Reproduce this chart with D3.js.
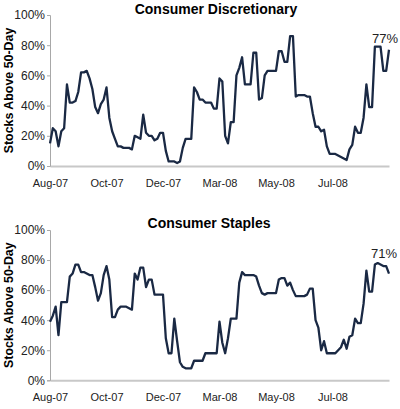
<!DOCTYPE html>
<html>
<head>
<meta charset="utf-8">
<script src="https://cdn.jsdelivr.net/npm/d3@7"></script>
<style>
  body { margin: 0; background: #fff; }
  svg { display: block; font-family: "Liberation Sans", Arial, sans-serif; }
</style>
</head>
<body>
<div id="chart"></div>
<script>
// x labels sit every 20 points along the category axis
const tickLabels = ["Aug-07", "Oct-07", "Dec-07", "Mar-08", "May-08", "Jul-08"];
const tickIdx = [0, 20, 40, 60, 80, 100];

// % of stocks above their 50-day average
const discretionary = [
  15, 25, 23, 13, 23, 25, 54, 42, 42, 43, 49, 62, 62, 63, 58, 51, 39, 35, 41, 44,
  52, 32, 23, 18, 13, 13, 12, 12, 12, 11, 20, 19, 18, 34, 22, 20, 20, 17, 18, 22,
  22, 10, 3, 3, 3, 2, 3, 12, 18, 18, 18, 52, 49, 44, 44, 42, 42, 42, 38, 38,
  58, 56, 20, 15, 29, 29, 60, 65, 72, 54, 54, 54, 75, 75, 44, 45, 60, 63, 63, 63,
  63, 76, 76, 69, 69, 86, 86, 46, 47, 47, 47, 46, 46, 35, 26, 26, 23, 24, 13, 8,
  8, 8, 7, 6, 5, 4, 11, 14, 26, 22, 22, 32, 54, 39, 39, 79, 79, 79, 63, 63, 77
];
const staples = [
  39, 43, 49, 30, 52, 52, 52, 69, 71, 77, 77, 72, 72, 71, 70, 70, 62, 53, 58, 70,
  76, 67, 42, 42, 47, 49, 49, 49, 48, 47, 71, 67, 75, 75, 62, 67, 67, 57, 57, 57,
  57, 28, 18, 18, 41, 26, 12, 9, 8, 8, 8, 13, 13, 13, 13, 18, 18, 18, 18, 18,
  39, 25, 18, 28, 41, 41, 41, 65, 72, 70, 70, 70, 70, 69, 63, 58, 57, 58, 58, 58,
  58, 67, 68, 68, 63, 65, 60, 56, 56, 56, 56, 57, 61, 61, 40, 35, 20, 26, 18, 18,
  18, 18, 20, 22, 27, 21, 29, 30, 41, 38, 38, 51, 73, 59, 59, 77, 78, 77, 76, 76, 71
];

const W = 400, H = 409;
const svg = d3.select("#chart").append("svg")
    .attr("width", W)
    .attr("height", H);

const panels = [
  {title: "Consumer Discretionary", values: discretionary, top: 15, bottom: 166,
   titleX: 216, titleY: 14, labelX: 385, labelY: 43},
  {title: "Consumer Staples", values: staples, top: 230, bottom: 380.3,
   titleX: 209, titleY: 228, labelX: 384, labelY: 258}
];

const left = 50, right = 389;

panels.forEach(p => {
    const g = svg.append("g");

    const x = d3.scalePoint()
        .domain(d3.range(p.values.length))
        .range([left, right]);

    const y = d3.scaleLinear()
        .domain([0, 1])
        .range([p.bottom, p.top]);

    // x axis: plain gray baseline with month labels
    const xAxis = g.append("g")
        .attr("transform", `translate(0,${p.bottom})`)
        .call(d3.axisBottom(x)
            .tickValues(tickIdx)
            .tickSize(0)
            .tickPadding(13)
            .tickFormat((d, i) => tickLabels[i]));
    xAxis.select(".domain").attr("stroke", "#c8c8c8").attr("stroke-width", 2);
    xAxis.selectAll("text").attr("font-size", 11).attr("fill", "#222");

    // y axis
    const yAxis = g.append("g")
        .attr("transform", `translate(${left},0)`)
        .call(d3.axisLeft(y)
            .tickValues(d3.range(0, 1.01, 0.2))
            .tickSize(3)
            .tickPadding(2)
            .tickFormat(d3.format(".0%")));
    yAxis.select(".domain").attr("stroke", "#a8a8a8");
    yAxis.selectAll(".tick line").attr("stroke", "#a8a8a8");
    yAxis.selectAll("text").attr("font-size", 12).attr("fill", "#222");

    // series
    const line = d3.line()
        .x((d, i) => x(i))
        .y(d => y(d / 100));

    g.append("path")
        .datum(p.values)
        .attr("fill", "none")
        .attr("stroke", "#1a2944")
        .attr("stroke-width", 2.3)
        .attr("stroke-linejoin", "round")
        .attr("d", line);

    // titles
    g.append("text")
        .attr("x", p.titleX)
        .attr("y", p.titleY)
        .attr("text-anchor", "middle")
        .attr("font-size", 14)
        .attr("font-weight", "bold")
        .attr("fill", "#000")
        .text(p.title);

    g.append("text")
        .attr("transform", `translate(13,${(p.top + p.bottom) / 2}) rotate(-90)`)
        .attr("text-anchor", "middle")
        .attr("font-size", 12.4)
        .attr("font-weight", "bold")
        .attr("fill", "#000")
        .text("Stocks Above 50-Day");

    // last value callout
    g.append("text")
        .attr("x", p.labelX)
        .attr("y", p.labelY)
        .attr("text-anchor", "middle")
        .attr("font-size", 13)
        .attr("fill", "#222")
        .text(p.values[p.values.length - 1] + "%");
});
</script>
</body>
</html>
